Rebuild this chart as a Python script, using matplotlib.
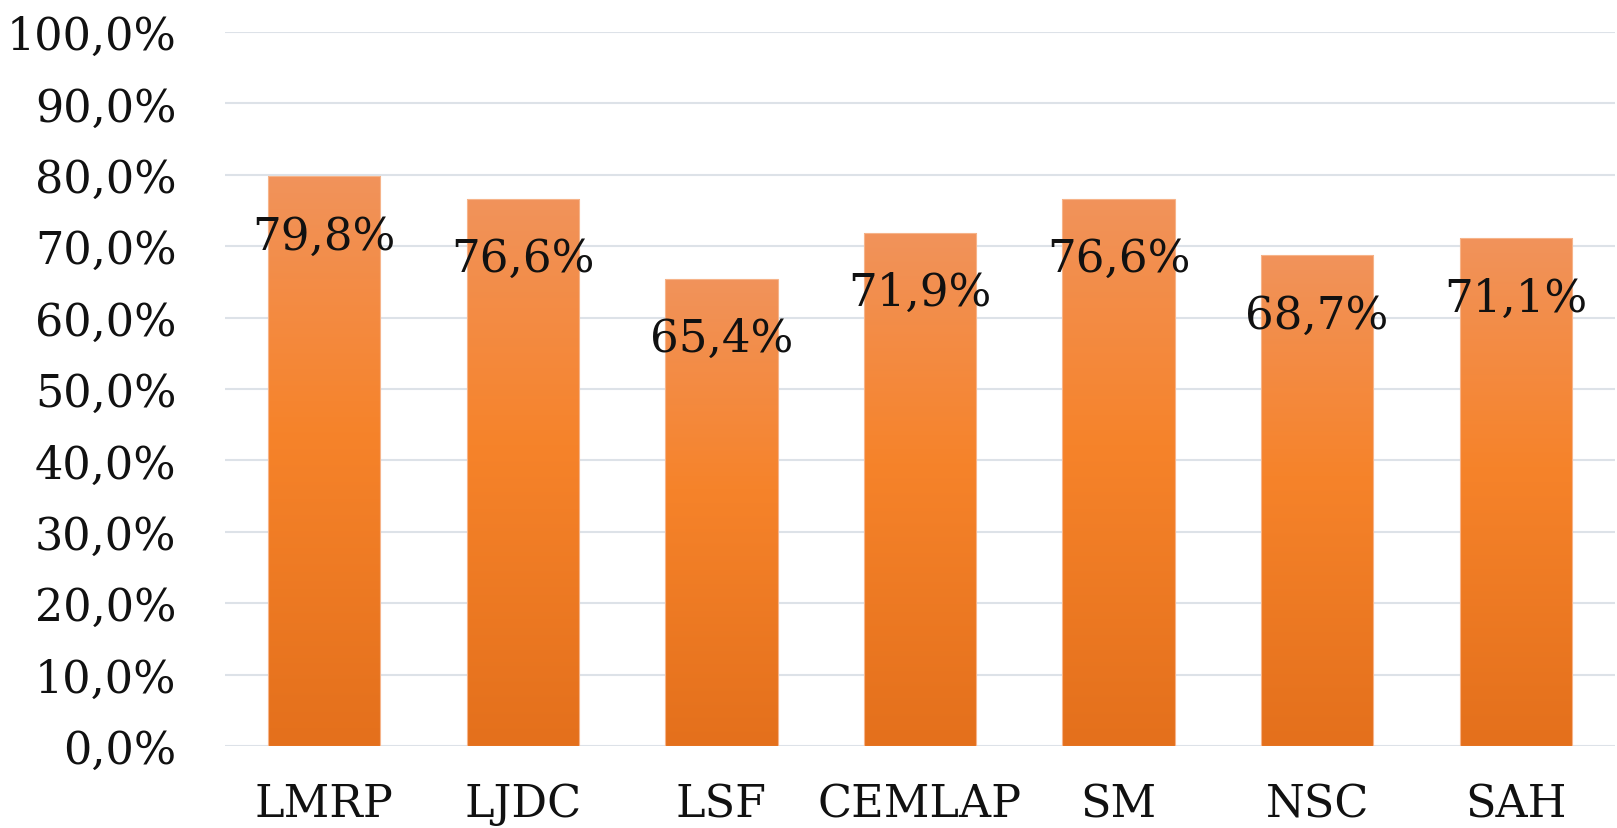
import numpy as np
import matplotlib
matplotlib.use("Agg")
import matplotlib.pyplot as plt
from matplotlib.colors import LinearSegmentedColormap
from matplotlib.ticker import FuncFormatter

categories = ["LMRP", "LJDC", "LSF", "CEMLAP", "SM", "NSC", "SAH"]
values = [79.8, 76.6, 65.4, 71.9, 76.6, 68.7, 71.1]
yticks = [0, 10, 20, 30, 40, 50, 60, 70, 80, 90, 100]

plt.rcParams["font.family"] = ["DejaVu Serif"]

fig = plt.figure(figsize=(16.17, 8.29), dpi=100)
ax = fig.add_axes([225 / 1617, 82 / 829, 1390 / 1617, 714 / 829])

# Excel-style vertical gradient: light at top, darker at bottom
cmap = LinearSegmentedColormap.from_list(
    "orange", [(0.0, "#E4701C"), (0.55, "#F6832A"), (1.0, "#F1935B")])
grad = np.linspace(0, 1, 256).reshape(-1, 1)

x = np.arange(len(categories))
bars = ax.bar(x, values, width=0.565, color="none", edgecolor="#F6B48A",
              linewidth=0.8, zorder=3)
for b in bars:
    x0, y0 = b.get_x(), b.get_y()
    im = ax.imshow(grad, cmap=cmap, origin="lower", aspect="auto",
                   extent=(x0, x0 + b.get_width(), y0, y0 + b.get_height()),
                   zorder=2)
    im.set_clip_path(b)

for xi, v in zip(x, values):
    ax.annotate(f"{v:.1f}%".replace(".", ","), (xi, v), xytext=(0, -43),
                textcoords="offset points", ha="center", va="center",
                fontsize=32.5, color="#111111", zorder=4)

ax.set_xlim(-0.5, len(categories) - 0.5)
ax.set_ylim(0, 100)
ax.set_yticks(yticks)
ax.yaxis.set_major_formatter(FuncFormatter(lambda v, p: f"{v:.1f}%".replace(".", ",")))
ax.set_xticks(x)
ax.set_xticklabels(categories)
ax.tick_params(axis="both", length=0, labelsize=32, colors="#111111")
ax.tick_params(axis="y", pad=35)
ax.tick_params(axis="x", pad=26)
ax.grid(axis="y", color="#DDE2E8", linewidth=1.5, zorder=0)
ax.set_axisbelow(True)
for s in ax.spines.values():
    s.set_visible(False)

fig.savefig("out.png", dpi=100)
